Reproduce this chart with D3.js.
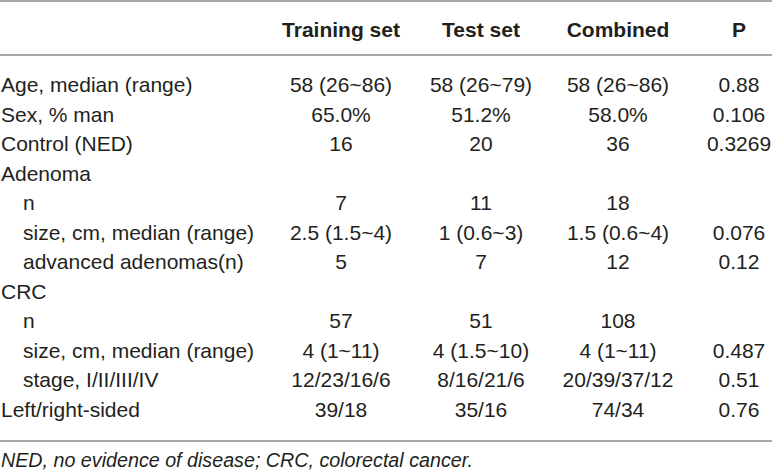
<!DOCTYPE html>
<html>
<head>
<meta charset="utf-8">
<script src="https://cdn.jsdelivr.net/npm/d3@7"></script>
<style>
  html, body { margin: 0; padding: 0; background: #fff; }
  svg text { font-family: "Liberation Sans", Arial, Helvetica, sans-serif; fill: #231f20; }
</style>
</head>
<body>
<div id="chart"></div>
<script>
// table contents
var columns = ["Training set", "Test set", "Combined", "P"];
var rowLabels = ["Age, median (range)", "Sex, % man", "Control (NED)", "Adenoma", "n",
  "size, cm, median (range)", "advanced adenomas(n)", "CRC", "n",
  "size, cm, median (range)", "stage, I/II/III/IV", "Left/right-sided"];
var indented = [0, 0, 0, 0, 1, 1, 1, 0, 1, 1, 1, 0];
var trainingSet = ["58 (26~86)", "65.0%", "16", "", "7", "2.5 (1.5~4)", "5", "", "57", "4 (1~11)", "12/23/16/6", "39/18"];
var testSet = ["58 (26~79)", "51.2%", "20", "", "11", "1 (0.6~3)", "7", "", "51", "4 (1.5~10)", "8/16/21/6", "35/16"];
var combined = ["58 (26~86)", "58.0%", "36", "", "18", "1.5 (0.6~4)", "12", "", "108", "4 (1~11)", "20/39/37/12", "74/34"];
var pValues = ["0.88", "0.106", "0.3269", "", "", "0.076", "0.12", "", "", "0.487", "0.51", "0.76"];
var footnote = "NED, no evidence of disease; CRC, colorectal cancer.";

var chartDiv = document.getElementById("chart");
var width = 772, height = 472;
var svg = d3.select(chartDiv).append("svg")
  .attr("width", width)
  .attr("height", height);

var fontSize = 21;

// column centres
var xCol = d3.scaleOrdinal()
  .domain(columns)
  .range([341, 481, 618, 739]);

// row baselines
var yRow = d3.scaleLinear()
  .domain([0, rowLabels.length - 1])
  .range([92, 416.5]);

var lineColor = "#a7a7a7";
function hline(y) {
  svg.append("line")
    .attr("x1", 0).attr("x2", width)
    .attr("y1", y).attr("y2", y)
    .attr("stroke", lineColor)
    .attr("stroke-width", 2);
}
hline(1);
hline(55);
hline(441);

// header
svg.append("g").selectAll("text")
  .data(columns)
  .enter()
  .append("text")
    .attr("x", function(d) { return xCol(d); })
    .attr("y", 37)
    .attr("text-anchor", "middle")
    .attr("font-size", fontSize)
    .attr("font-weight", "bold")
    .text(function(d) { return d; });

// row labels
svg.append("g").selectAll("text")
  .data(rowLabels)
  .enter()
  .append("text")
    .attr("x", function(d, i) { return indented[i] ? 23 : 1; })
    .attr("y", function(d, i) { return yRow(i); })
    .attr("font-size", fontSize)
    .text(function(d) { return d; });

// value columns
var series = [trainingSet, testSet, combined, pValues];
series.forEach(function(vals, c) {
  svg.append("g").selectAll("text")
    .data(vals)
    .enter()
    .append("text")
      .attr("x", xCol(columns[c]))
      .attr("y", function(d, i) { return yRow(i); })
      .attr("text-anchor", "middle")
      .attr("font-size", fontSize)
      .text(function(d) { return d; });
});

// footnote
svg.append("text")
  .attr("x", 1)
  .attr("y", 467)
  .attr("font-size", 19.7)
  .attr("font-style", "italic")
  .text(footnote);
</script>
</body>
</html>
